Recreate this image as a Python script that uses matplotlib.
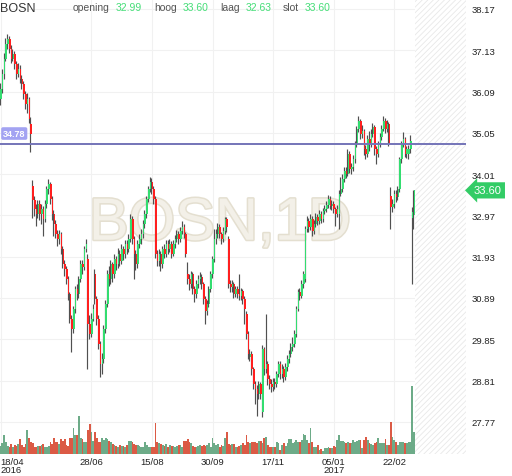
import numpy as np
import matplotlib
matplotlib.use("Agg")
import matplotlib.pyplot as plt
import matplotlib.patheffects as pe

plt.rcParams['font.family'] = ['Liberation Sans', 'DejaVu Sans']
plt.rcParams['hatch.linewidth'] = 0.6

# daily OHLC, 18/04/2016 .. 09/03/2017
opens = [
    35.90, 36.15, 36.53, 36.91, 37.29, 37.41, 37.16, 36.91, 37.03, 36.78,
    36.53, 36.66, 36.41, 36.28, 36.03, 35.78, 35.90, 35.27, 33.70, 33.35,
    33.13, 33.00, 33.26, 33.00, 33.13, 32.88, 33.26, 33.63, 33.76, 33.38,
    33.00, 32.75, 32.50, 32.37, 32.50, 32.12, 31.74, 31.62, 31.37, 30.99,
    30.36, 30.11, 30.61, 31.12, 30.99, 31.37, 31.74, 31.67, 32.12, 31.87,
    30.23, 29.98, 30.36, 31.49, 30.86, 30.36, 29.73, 29.23, 29.35, 30.11,
    30.74, 31.49, 31.37, 31.74, 31.49, 31.87, 31.74, 32.00, 31.82, 32.12,
    32.00, 32.25, 32.12, 32.37, 32.88, 32.37, 32.00, 31.74, 32.25, 32.37,
    32.50, 32.75, 33.00, 33.38, 33.63, 33.81, 33.63, 33.38, 32.00, 31.82,
    32.00, 31.74, 32.12, 32.00, 32.25, 32.12, 32.25, 32.00, 32.25, 32.37,
    32.50, 32.37, 32.58, 32.68, 32.50, 31.49, 31.37, 31.24, 31.49, 31.12,
    30.99, 31.24, 31.37, 31.42, 31.24, 30.86, 30.56, 30.74, 31.12, 31.49,
    31.87, 32.37, 32.50, 32.68, 32.50, 32.37, 32.58, 32.88, 32.37, 31.24,
    31.17, 31.24, 30.99, 31.12, 30.99, 30.94, 31.06, 30.86, 30.49, 29.98,
    29.40, 29.48, 29.10, 28.72, 28.60, 28.47, 28.72, 28.02, 29.60, 29.10,
    29.23, 28.85, 28.72, 28.65, 28.77, 28.72, 28.97, 29.23, 28.97, 29.10,
    28.90, 29.15, 29.35, 29.48, 29.66, 29.73, 29.98, 30.61, 31.04, 30.94,
    31.24, 31.37, 32.63, 32.83, 32.68, 32.88, 32.58, 32.75, 32.93, 32.83,
    33.00, 32.88, 33.08, 33.13, 33.23, 33.38, 33.21, 33.26, 33.13, 33.00,
    33.00, 33.51, 33.63, 33.89, 34.09, 34.01, 34.52, 34.14, 34.19, 34.39,
    34.77, 35.15, 35.35, 35.02, 35.10, 34.64, 34.52, 34.89, 34.77, 35.02,
    35.20, 34.64, 34.52, 34.77, 34.94, 35.15, 35.35, 35.15, 35.27, 33.46,
    33.18, 33.26, 33.51, 33.43, 33.63, 34.39, 34.77, 34.89, 34.52, 34.52,
    34.64, 32.90, 32.99]
highs = [
    36.30, 36.65, 37.05, 37.45, 37.54, 37.50, 37.25, 37.15, 37.10, 36.85,
    36.80, 36.75, 36.50, 36.35, 36.10, 36.05, 35.95, 35.45, 33.85, 33.45,
    33.25, 33.35, 33.35, 33.25, 33.20, 33.35, 33.70, 33.89, 33.80, 33.45,
    33.10, 32.85, 32.60, 32.60, 32.55, 32.20, 31.85, 31.70, 31.45, 31.05,
    30.45, 30.70, 31.20, 31.25, 31.45, 31.85, 31.85, 32.20, 32.37, 32.00,
    30.45, 30.50, 30.75, 31.62, 30.95, 30.45, 29.80, 29.50, 30.20, 30.85,
    31.60, 31.70, 31.85, 31.80, 32.00, 31.95, 32.15, 32.10, 32.25, 32.20,
    32.35, 32.35, 32.50, 33.00, 32.95, 32.45, 32.10, 32.35, 32.50, 32.62,
    32.85, 33.10, 33.45, 33.72, 33.94, 33.90, 33.70, 33.45, 32.10, 32.12,
    32.08, 32.20, 32.25, 32.35, 32.35, 32.38, 32.32, 32.35, 32.48, 32.60,
    32.58, 32.68, 32.83, 32.75, 32.55, 31.79, 31.50, 31.58, 31.55, 31.20,
    31.35, 31.48, 31.55, 31.50, 31.30, 30.95, 30.85, 31.20, 31.58, 31.95,
    32.63, 32.62, 32.78, 32.75, 32.55, 32.68, 32.93, 32.92, 32.45, 31.35,
    31.35, 31.30, 31.20, 31.18, 31.49, 31.15, 31.12, 30.95, 30.55, 30.05,
    29.60, 29.55, 29.15, 28.80, 28.70, 28.80, 28.78, 29.70, 29.65, 30.49,
    29.30, 28.95, 28.85, 28.88, 28.88, 29.05, 29.30, 29.30, 29.22, 29.18,
    29.25, 29.45, 29.58, 29.75, 29.90, 30.08, 30.70, 31.12, 31.15, 31.35,
    31.58, 32.70, 32.95, 32.90, 33.00, 32.95, 32.85, 33.02, 33.00, 33.10,
    33.08, 33.15, 33.22, 33.32, 33.48, 33.45, 33.35, 33.32, 33.18, 33.22,
    33.60, 33.94, 34.01, 34.18, 34.20, 34.64, 34.58, 34.30, 34.48, 34.85,
    35.22, 35.47, 35.40, 35.25, 35.15, 34.75, 35.00, 35.10, 35.15, 35.30,
    35.25, 34.72, 34.85, 35.05, 35.25, 35.47, 35.42, 35.38, 35.33, 33.68,
    33.38, 33.60, 33.62, 33.72, 34.45, 34.85, 35.07, 34.95, 34.72, 34.75,
    35.00, 33.18, 33.60]
lows = [
    35.75, 36.05, 36.40, 36.85, 37.15, 37.05, 36.80, 36.85, 36.65, 36.40,
    36.45, 36.30, 36.15, 35.90, 35.65, 35.55, 35.30, 34.57, 32.90, 32.95,
    32.70, 32.90, 32.85, 32.75, 32.45, 32.80, 33.15, 33.50, 33.25, 32.85,
    32.45, 32.40, 32.20, 32.25, 32.00, 31.65, 31.45, 31.25, 30.85, 30.25,
    29.53, 30.00, 30.50, 30.85, 30.90, 31.30, 31.50, 31.60, 32.05, 29.10,
    29.85, 29.90, 30.30, 30.75, 30.20, 29.60, 28.90, 28.97, 29.25, 30.00,
    30.65, 31.20, 31.25, 31.30, 31.40, 31.60, 31.65, 31.70, 31.75, 31.85,
    31.90, 32.00, 32.05, 32.30, 32.25, 31.37, 31.60, 31.65, 32.15, 32.25,
    32.40, 32.65, 32.90, 33.30, 33.55, 33.50, 33.25, 31.90, 31.70, 31.70,
    31.57, 31.65, 31.90, 31.92, 32.00, 32.05, 31.90, 31.95, 32.15, 32.30,
    32.25, 32.30, 32.50, 32.40, 31.92, 31.25, 31.10, 31.15, 31.00, 30.79,
    30.90, 31.15, 31.25, 31.12, 30.75, 30.23, 30.45, 30.65, 31.05, 31.40,
    31.80, 32.25, 32.40, 32.40, 32.25, 32.30, 32.50, 32.55, 31.15, 31.05,
    31.05, 30.90, 30.92, 30.88, 30.85, 30.85, 30.75, 30.23, 29.85, 29.35,
    29.30, 28.95, 28.60, 28.22, 27.92, 28.35, 28.35, 27.89, 28.95, 29.00,
    28.70, 28.60, 28.52, 28.55, 28.60, 28.65, 28.90, 28.85, 28.88, 28.78,
    28.82, 29.05, 29.25, 29.40, 29.55, 29.65, 29.90, 30.55, 30.85, 30.88,
    31.15, 31.30, 32.55, 32.55, 32.60, 32.45, 32.50, 32.68, 32.72, 32.75,
    32.78, 32.80, 33.00, 33.05, 33.15, 33.12, 33.10, 33.02, 32.70, 32.92,
    32.63, 33.45, 33.55, 33.80, 33.92, 33.95, 34.05, 34.02, 34.10, 34.30,
    34.70, 35.08, 34.90, 34.92, 34.50, 34.39, 34.45, 34.60, 34.70, 34.95,
    34.50, 34.26, 34.45, 34.70, 34.88, 35.10, 35.05, 35.08, 34.72, 32.63,
    33.05, 33.15, 33.30, 33.35, 33.55, 34.30, 34.70, 34.45, 34.42, 34.40,
    34.55, 31.24, 32.63]
closes = [
    36.15, 36.53, 36.91, 37.29, 37.41, 37.16, 36.91, 37.03, 36.78, 36.53,
    36.66, 36.41, 36.28, 36.03, 35.78, 35.90, 35.40, 35.02, 33.35, 33.13,
    33.00, 33.26, 33.00, 33.13, 32.88, 33.26, 33.63, 33.76, 33.38, 33.00,
    32.75, 32.50, 32.37, 32.50, 32.12, 31.74, 31.62, 31.37, 30.99, 30.36,
    30.11, 30.61, 31.12, 30.99, 31.37, 31.74, 31.67, 32.12, 32.25, 30.23,
    29.98, 30.36, 30.61, 30.86, 30.36, 29.73, 29.23, 29.35, 30.11, 30.74,
    31.49, 31.37, 31.74, 31.49, 31.87, 31.74, 32.00, 31.82, 32.12, 32.00,
    32.25, 32.12, 32.37, 32.88, 32.37, 32.00, 31.74, 32.25, 32.37, 32.50,
    32.75, 33.00, 33.38, 33.63, 33.81, 33.63, 33.38, 32.00, 31.82, 32.00,
    31.74, 32.12, 32.00, 32.25, 32.12, 32.25, 32.00, 32.25, 32.37, 32.50,
    32.37, 32.58, 32.68, 32.50, 32.00, 31.37, 31.24, 31.49, 31.12, 30.99,
    31.24, 31.37, 31.42, 31.24, 30.86, 30.56, 30.74, 31.12, 31.49, 31.87,
    32.37, 32.50, 32.68, 32.50, 32.37, 32.58, 32.88, 32.68, 31.24, 31.17,
    31.24, 30.99, 31.12, 30.99, 30.94, 31.06, 30.86, 30.61, 29.98, 29.48,
    29.48, 29.10, 28.72, 28.60, 28.47, 28.72, 28.47, 29.60, 29.10, 29.23,
    28.85, 28.72, 28.65, 28.77, 28.72, 28.97, 29.23, 28.97, 29.10, 28.90,
    29.15, 29.35, 29.48, 29.66, 29.73, 29.98, 30.61, 31.04, 30.94, 31.24,
    31.49, 32.63, 32.83, 32.68, 32.88, 32.58, 32.75, 32.93, 32.83, 33.00,
    32.88, 33.08, 33.13, 33.23, 33.38, 33.21, 33.26, 33.13, 33.00, 33.13,
    33.51, 33.63, 33.89, 34.09, 34.01, 34.52, 34.14, 34.19, 34.39, 34.77,
    35.15, 35.35, 35.02, 35.10, 34.64, 34.52, 34.89, 34.77, 35.02, 35.20,
    34.64, 34.52, 34.77, 34.94, 35.15, 35.35, 35.15, 35.27, 34.77, 33.18,
    33.26, 33.51, 33.43, 33.63, 34.39, 34.77, 34.89, 34.52, 34.64, 34.64,
    34.84, 33.05, 33.60]
# volume in thousands of shares
volume = [
    180, 240, 420, 260, 180, 150, 220, 150, 200, 180,
    220, 330, 200, 150, 220, 530, 350, 260, 240, 150,
    150, 180, 180, 200, 220, 150, 150, 180, 260, 220,
    350, 260, 260, 220, 330, 290, 330, 200, 180, 350,
    350, 570, 420, 420, 840, 350, 330, 260, 260, 530,
    660, 480, 290, 480, 350, 260, 260, 350, 310, 350,
    330, 290, 260, 220, 200, 180, 150, 200, 180, 180,
    150, 200, 290, 290, 260, 220, 200, 200, 180, 150,
    150, 260, 200, 150, 150, 150, 150, 680, 260, 240,
    220, 200, 180, 220, 150, 200, 180, 180, 150, 180,
    200, 200, 150, 290, 290, 330, 260, 240, 180, 150,
    150, 180, 200, 180, 200, 180, 200, 240, 150, 350,
    240, 200, 220, 150, 200, 180, 350, 480, 220, 200,
    220, 220, 150, 150, 180, 200, 240, 200, 420, 260,
    240, 260, 260, 260, 240, 290, 290, 240, 350, 370,
    200, 150, 150, 150, 150, 260, 240, 90, 200, 240,
    180, 240, 330, 330, 240, 260, 310, 260, 260, 310,
    440, 420, 310, 240, 570, 260, 150, 150, 200, 90,
    110, 70, 130, 130, 150, 130, 130, 180, 150, 310,
    420, 290, 290, 260, 240, 260, 240, 240, 310, 260,
    290, 310, 310, 130, 310, 370, 310, 240, 220, 200,
    240, 260, 350, 240, 240, 240, 330, 200, 200, 700,
    370, 310, 260, 200, 260, 260, 260, 240, 240, 260,
    260, 1500, 480]

tick_pos = [0, 51, 85, 119, 153, 187, 221]
tick_labels = ['18/04\n2016', '28/06', '15/08', '30/09', '17/11', '05/01\n2017', '22/02']
price_ticks = [27.77, 28.81, 29.85, 30.89, 31.93, 32.97, 34.01, 35.05, 36.09, 37.13, 38.17]
ref_level = 34.78
last = {'opening': '32.99', 'hoog': '33.60', 'laag': '32.63', 'slot': '33.60'}

o = np.array(opens)
h = np.array(highs)
l = np.array(lows)
c = np.array(closes)
idx = np.arange(len(c))
up = c >= o

GREEN = '#33dd70'
RED = '#ff1f1f'

fig = plt.figure(figsize=(5.12, 4.77), dpi=100)
ax = fig.add_axes([0, 22 / 477, 466 / 512, 455 / 477])
ax2 = ax.twinx()

ax.set_xlim(-0.3, 261.2)
ax.set_ylim(26.96, 38.42)

# grid
for y in price_ticks:
    ax.axhline(y, color='#f1f1f1', lw=0.8, zorder=0)
for x in tick_pos:
    ax.axvline(x, color='#f1f1f1', lw=0.8, zorder=0)

# future area
ax.axvspan(232.6, 261.2, facecolor='white', edgecolor='#e8e8e8', hatch='//////', lw=0, zorder=0)

# watermark
ax.text(0.472, 0.505, 'BOSN,1D', transform=ax.transAxes, ha='center', va='center',
        fontsize=43, color='#f3f0e8', zorder=1,
        path_effects=[pe.Stroke(linewidth=2.2, foreground='#e4dfd0'), pe.Normal()])

# candles: grey wick left, coloured body right
ax.vlines(idx - 0.3, l, h, color='#505050', lw=0.85, zorder=3)
body_h = np.maximum(np.abs(c - o), 0.02)
ax.bar(idx + 0.2, body_h, bottom=np.minimum(o, c), width=0.85,
       color=np.where(up, GREEN, RED), lw=0, zorder=4)

# reference line + label
ax.axhline(ref_level, color='#7474b8', lw=1.4, zorder=5)
ax.annotate(f'{ref_level:.2f}', xy=(0.0, ref_level), xycoords=('axes fraction', 'data'),
            xytext=(3, 10), textcoords='offset pixels', ha='left', va='center',
            fontsize=6.5, color='white', fontweight='bold', zorder=6,
            bbox=dict(boxstyle='round,pad=0.2', fc='#a3a3f2', ec='none'))

# last price label on the axis
ax.annotate(last['slot'], xy=(1.0, closes[-1]), xycoords=('axes fraction', 'data'),
            xytext=(8, 0), textcoords='offset pixels', ha='left', va='center',
            fontsize=8, color='white', annotation_clip=False, zorder=6,
            bbox=dict(boxstyle='larrow,pad=0.28', fc='#33cc66', ec='none'))

# volume
ax2.bar(idx, volume, width=1.0, color=np.where(up, '#6dab88', '#db5a45'), lw=0)
ax2.set_ylim(0, 10000)
ax2.set_yticks([])

ax.yaxis.tick_right()
ax.set_yticks(price_ticks, [f'{t:.2f}' for t in price_ticks])
ax.set_xticks(tick_pos, tick_labels)
ax.tick_params(axis='both', length=0, labelsize=6.8, labelcolor='#222222')
ax.tick_params(axis='y', pad=4)
ax.tick_params(axis='x', pad=2)
for lab in ax.get_xticklabels():
    lab.set_linespacing(0.95)
ax.get_xticklabels()[0].set_ha('left')
for a in (ax, ax2):
    for s in a.spines.values():
        s.set_visible(False)

# header
fig.text(0.0, 1 - 12 / 477, 'BOSN', fontsize=9, color='#333333', va='baseline')
heads = [('opening', 73, 116), ('hoog', 154, 183), ('laag', 220, 246), ('slot', 283, 305)]
for name, xn, xv in heads:
    fig.text(xn / 512, 1 - 11 / 477, name, fontsize=7.5, color='#555555', va='baseline')
    fig.text(xv / 512, 1 - 11 / 477, last[name], fontsize=7.5, color='#44dd77', va='baseline')

fig.savefig('out.png', dpi=100)
